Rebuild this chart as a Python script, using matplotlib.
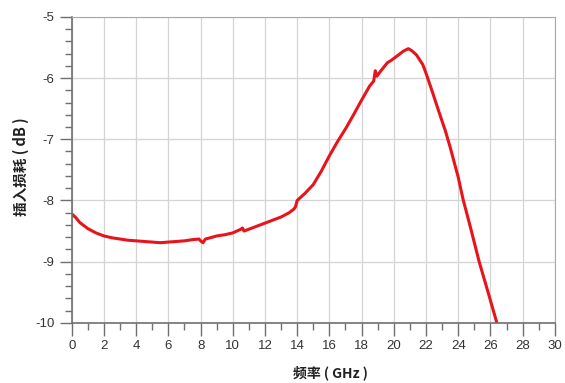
import matplotlib
matplotlib.use("Agg")
import matplotlib.pyplot as plt
from matplotlib.ticker import MultipleLocator

freq = [0, 0.25, 0.5, 1, 1.5, 2, 2.5, 3, 3.5, 4, 4.5, 5, 5.5, 6, 6.5, 7, 7.5,
        7.9, 8.0, 8.15, 8.3, 8.6, 9, 9.5, 10, 10.5, 10.6, 10.7, 11, 11.5, 12,
        12.5, 13, 13.5, 13.8, 13.9, 14.0, 14.5, 15, 15.5, 16, 16.5, 17,
        17.5, 18, 18.5, 18.75, 18.85, 18.95, 19.2, 19.6, 19.9, 20.3, 20.6,
        20.9, 21.1, 21.4, 21.8, 22.0, 22.4, 22.8, 23.2, 23.5, 24, 24.3, 24.8,
        25.3, 25.8, 26.4]
loss = [-8.22, -8.28, -8.36, -8.46, -8.53, -8.58, -8.61, -8.63, -8.65, -8.66,
        -8.67, -8.68, -8.69, -8.68, -8.67, -8.66, -8.64, -8.63, -8.66, -8.69,
        -8.63, -8.61, -8.58, -8.56, -8.53, -8.47, -8.45, -8.50, -8.47, -8.42,
        -8.37, -8.32, -8.27, -8.20, -8.14, -8.10, -8.00, -7.88, -7.74, -7.52,
        -7.27, -7.04, -6.83, -6.60, -6.36, -6.13, -6.05, -5.88, -5.97, -5.88,
        -5.75, -5.70, -5.62, -5.56, -5.52, -5.55, -5.62, -5.78, -5.92, -6.23,
        -6.55, -6.86, -7.13, -7.62, -7.98, -8.48, -9.00, -9.45, -10.00]

xticks = list(range(0, 31, 2))
yticks = [-10, -9, -8, -7, -6, -5]

plt.rcParams['font.family'] = ['Liberation Sans', 'Noto Sans CJK SC', 'DejaVu Sans']
plt.rcParams['axes.unicode_minus'] = False

fig = plt.figure(figsize=(5.65, 3.83), dpi=100)
ax = fig.add_axes([0.127, 0.157, 0.855, 0.799])

ax.plot(freq, loss, color='#e8141b', lw=2.2, solid_capstyle='round',
        solid_joinstyle='round', clip_on=True)

ax.set_xlim(0, 30)
ax.set_ylim(-10, -5)
ax.set_xticks(xticks)
ax.set_yticks(yticks)
ax.xaxis.set_minor_locator(MultipleLocator(1))
ax.yaxis.set_minor_locator(MultipleLocator(0.2))
ax.grid(True, which='major', color='#d4d4d4', lw=0.9)
ax.tick_params(which='major', direction='out', length=9, width=1, color='#707070',
               labelsize=9.5, labelcolor='#333333')
ax.tick_params(which='minor', direction='out', length=5, width=1, color='#707070')
for s in ['top', 'right']:
    ax.spines[s].set_color('#a8a8a8')
for s in ['left', 'bottom']:
    ax.spines[s].set_color('#707070')
    ax.spines[s].set_linewidth(1.2)

ax.set_xlabel('频率 ( GHz )', fontsize=10, fontweight='bold',
              family=['Noto Sans CJK SC', 'DejaVu Sans'], color='#222222')
ax.set_ylabel('插入损耗 ( dB )', fontsize=10.5, fontweight='bold',
              family=['Noto Sans CJK SC', 'DejaVu Sans'], color='#222222')
ax.yaxis.set_label_coords(-0.088, 0.51)
ax.xaxis.set_label_coords(0.536, -0.14)

fig.savefig('out.png', dpi=100)
